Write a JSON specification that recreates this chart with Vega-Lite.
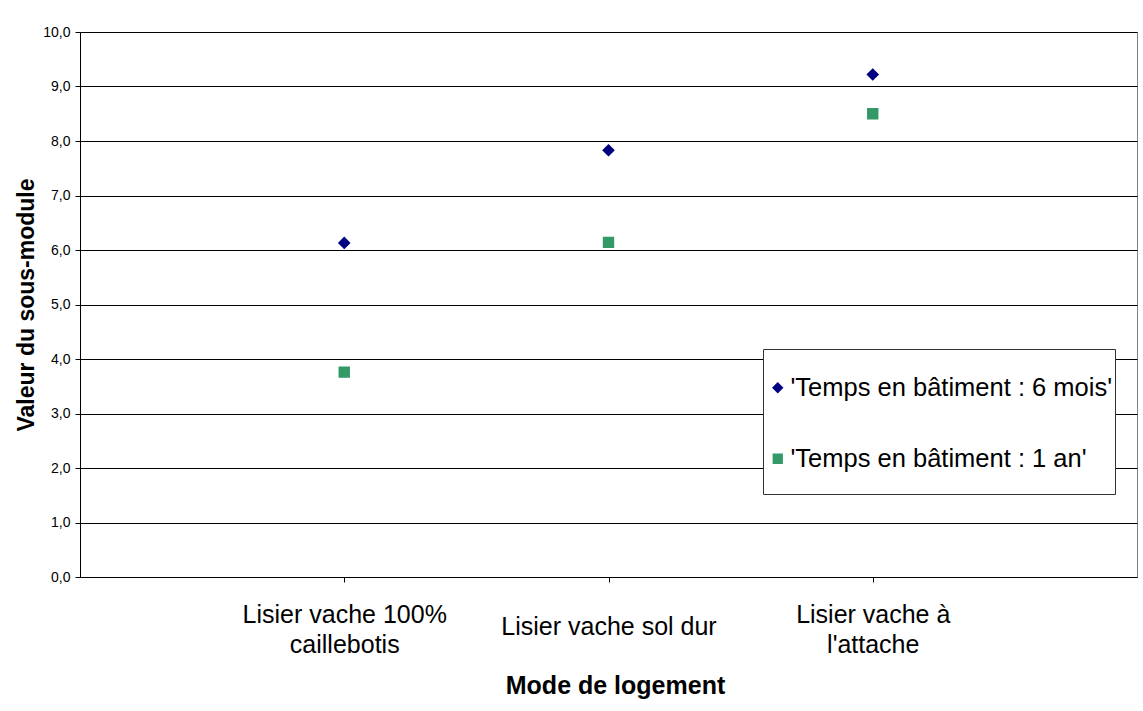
{
  "$schema": "https://vega.github.io/schema/vega-lite/v6.json",
  "autosize": {"type": "none"},
  "width": 1057,
  "height": 545,
  "padding": {"left": 80, "top": 32, "right": 6, "bottom": 134},
  "background": "white",
  "config": {
    "font": "Liberation Sans",
    "view": {"stroke": "#808080", "strokeWidth": 1}
  },
  "data": {
    "values": [
      {"mode": "Lisier vache 100% caillebotis", "serie": "'Temps en bâtiment : 6 mois'", "valeur": 6.13},
      {"mode": "Lisier vache sol dur", "serie": "'Temps en bâtiment : 6 mois'", "valeur": 7.83},
      {"mode": "Lisier vache à l'attache", "serie": "'Temps en bâtiment : 6 mois'", "valeur": 9.22},
      {"mode": "Lisier vache 100% caillebotis", "serie": "'Temps en bâtiment : 1 an'", "valeur": 3.76},
      {"mode": "Lisier vache sol dur", "serie": "'Temps en bâtiment : 1 an'", "valeur": 6.14},
      {"mode": "Lisier vache à l'attache", "serie": "'Temps en bâtiment : 1 an'", "valeur": 8.5}
    ]
  },
  "mark": {"type": "point", "filled": true, "opacity": 1},
  "encoding": {
    "x": {
      "field": "mode",
      "type": "nominal",
      "sort": ["Lisier vache 100% caillebotis", "Lisier vache sol dur", "Lisier vache à l'attache"],
      "scale": {"type": "point", "padding": 1},
      "axis": {
        "title": "Mode de logement",
        "titleFont": "Liberation Sans",
        "titleFontSize": 25,
        "titleFontWeight": "bold",
        "titleColor": "black",
        "titleBaseline": "top",
        "titleY": 96,
        "titleX": 535,
        "titleAnchor": "start",
        "titleAlign": "center",
        "labelAngle": 0,
        "labelFontSize": 25,
        "labelColor": "black",
        "labelPadding": 32,
        "labelBaseline": {"condition": {"test": "datum.value === 'Lisier vache sol dur'", "value": "top"}, "value": "middle"},
        "labelLineHeight": 30,
        "labelLimit": 400,
        "labelExpr": "datum.label == 'Lisier vache 100% caillebotis' ? ['Lisier vache 100%', 'caillebotis'] : datum.label == \"Lisier vache à l'attache\" ? ['Lisier vache à', \"l'attache\"] : datum.label",
        "domainColor": "black",
        "tickColor": "black",
        "tickSize": 5,
        "grid": false
      }
    },
    "y": {
      "field": "valeur",
      "type": "quantitative",
      "scale": {"domain": [0, 10], "nice": false},
      "axis": {
        "title": "Valeur du sous-module",
        "titleFont": "Liberation Sans",
        "titleFontSize": 23,
        "titleFontWeight": "bold",
        "titleColor": "black",
        "titlePadding": 4,
        "values": [0, 1, 2, 3, 4, 5, 6, 7, 8, 9, 10],
        "labelExpr": "replace(format(datum.value, '.1f'), '.', ',')",
        "labelFontSize": 14,
        "labelColor": "black",
        "labelPadding": 5,
        "tickSize": 5,
        "tickColor": "black",
        "domainColor": "black",
        "grid": true,
        "gridColor": "black",
        "gridOpacity": 1,
        "gridWidth": 1
      }
    },
    "color": {
      "field": "serie",
      "type": "nominal",
      "sort": ["'Temps en bâtiment : 6 mois'", "'Temps en bâtiment : 1 an'"],
      "scale": {"domain": ["'Temps en bâtiment : 6 mois'", "'Temps en bâtiment : 1 an'"], "range": ["#000080", "#339966"]},
      "legend": {
        "title": " ",
        "titleFontSize": 12,
        "titlePadding": 12,
        "orient": "none",
        "legendX": 683,
        "legendY": 317,
        "padding": 2,
        "fillColor": "white",
        "strokeColor": "#333333",
        "labelFontSize": 25.5,
        "labelColor": "black",
        "labelLimit": 400,
        "labelOffset": 0,
        "symbolSize": 130,
        "symbolStrokeWidth": 0,
        "rowPadding": 4
      }
    },
    "shape": {
      "field": "serie",
      "type": "nominal",
      "sort": ["'Temps en bâtiment : 6 mois'", "'Temps en bâtiment : 1 an'"],
      "scale": {"domain": ["'Temps en bâtiment : 6 mois'", "'Temps en bâtiment : 1 an'"], "range": ["M0,-1L1,0L0,1L-1,0Z M0,-5.8L0,-5.8 M0,5.8L0,5.8", "M-0.9,-0.9L0.9,-0.9L0.9,0.9L-0.9,0.9Z M0,-5.8L0,-5.8 M0,5.8L0,5.8"]},
      "legend": null
    },
    "size": {"value": 160}
  }
}
